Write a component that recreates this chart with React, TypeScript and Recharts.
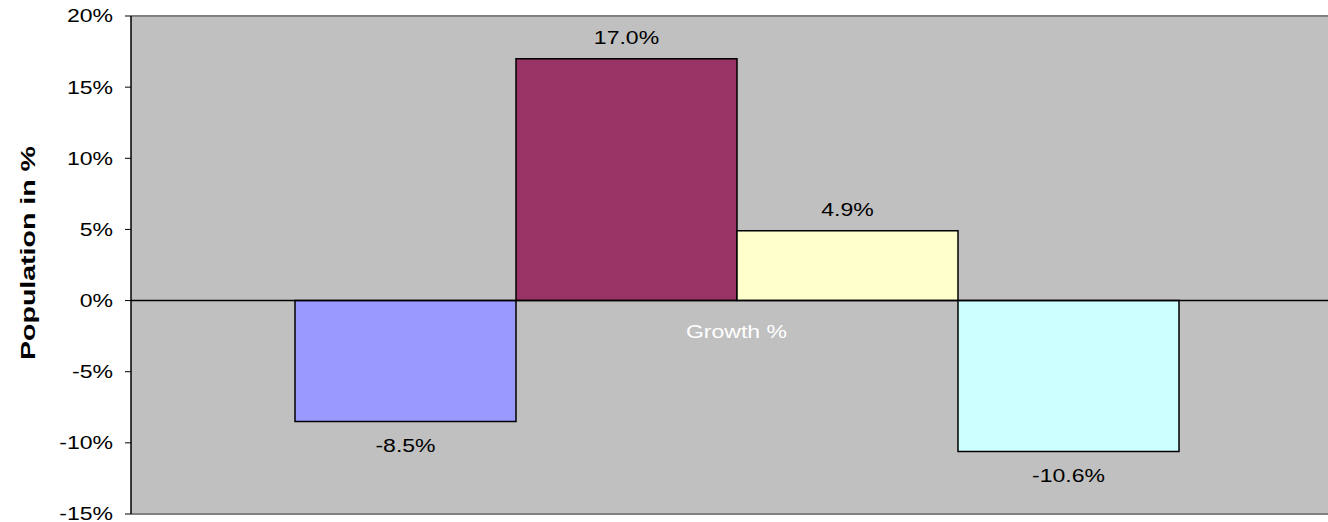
import { BarChart, Bar, YAxis, XAxis, CartesianGrid, ReferenceLine, ReferenceDot, LabelList } from "recharts";

const categories = ["Growth %"];
const seriesNames = ["Series 1", "Series 2", "Series 3", "Series 4"];
const seriesValues = [-8.5, 17.0, 4.9, -10.6];
const seriesColors = ["#9999FF", "#993366", "#FFFFCC", "#CCFFFF"];
const yTicks = [-15, -10, -5, 0, 5, 10, 15, 20];

const rows = categories.map((name) => {
  const row: Record<string, any> = { name };
  seriesNames.forEach((s, i) => (row[s] = seriesValues[i]));
  return row;
});

const font = "'Liberation Sans', Arial, sans-serif";
const stretch = 1.28;

const YTick = (p: any) => (
  <text
    transform={`translate(${p.x},${p.y}) scale(${stretch},1)`}
    textAnchor="end"
    dy="0.36em"
    fontSize={18}
    fontFamily={font}
    fill="#000"
  >
    {`${p.payload.value}%`}
  </text>
);

const valueLabel = (p: any) => {
  const { x, y, width, height, value } = p;
  const top = Math.min(y, y + height);
  const bottom = Math.max(y, y + height);
  const cy = value >= 0 ? top - 21 : bottom + 24;
  return (
    <text
      transform={`translate(${x + width / 2},${cy}) scale(${stretch},1)`}
      textAnchor="middle"
      dy="0.36em"
      fontSize={18}
      fontFamily={font}
      fill="#000"
    >
      {`${Number(value).toFixed(1)}%`}
    </text>
  );
};

const yTitle = (p: any) => {
  const vb = p.viewBox;
  const cx = vb.x + 27;
  const cy = vb.y + vb.height / 2 - 12;
  return (
    <text
      transform={`translate(${cx},${cy}) rotate(-90)`}
      textAnchor="middle"
      dy="0.36em"
      fontSize={21}
      fontWeight="bold"
      fontFamily={font}
      fill="#000"
      textLength={214}
      lengthAdjust="spacingAndGlyphs"
    >
      Population in %
    </text>
  );
};

const catLabel = (p: any) => {
  const vb = p.viewBox;
  return (
    <text
      transform={`translate(${vb.x + (vb.width || 0) / 2},${vb.y + 31}) scale(${stretch},1)`}
      textAnchor="middle"
      dy="0.36em"
      fontSize={18}
      fontFamily={font}
      fill="#fff"
    >
      {categories[0]}
    </text>
  );
};

export default function App() {
  return (
    <div style={{ position: "absolute", left: 0, top: 0, width: 1328, height: 522, background: "#fff" }}>
      <BarChart
        width={1328}
        height={522}
        data={rows}
        margin={{ top: 16, right: 0, bottom: 8, left: 0 }}
        barGap={0}
        barSize={221}
      >
        <CartesianGrid horizontal={false} vertical={false} fill="#C0C0C0" />
        <XAxis dataKey="name" hide padding={{ left: 14, right: 0 }} />
        <YAxis
          width={131}
          domain={[-15, 20]}
          ticks={yTicks}
          interval={0}
          allowDataOverflow
          tickSize={6}
          tickMargin={12}
          tick={<YTick />}
          axisLine={{ stroke: "#000", strokeWidth: 1.5 }}
          tickLine={{ stroke: "#000" }}
          label={{ content: yTitle }}
        />
        <ReferenceLine y={20} stroke="#808080" strokeWidth={2} />
        <ReferenceLine y={-15} stroke="#808080" strokeWidth={2} />
        {seriesNames.map((s, i) => (
          <Bar key={s} dataKey={s} fill={seriesColors[i]} stroke="#000" strokeWidth={1.5} isAnimationActive={false}>
            <LabelList dataKey={s} content={valueLabel} />
          </Bar>
        ))}
        <ReferenceLine y={0} stroke="#000" strokeWidth={1.5} />
        <ReferenceDot x={categories[0]} y={0} r={0} stroke="none" fill="none" label={{ content: catLabel }} />
      </BarChart>
    </div>
  );
}
